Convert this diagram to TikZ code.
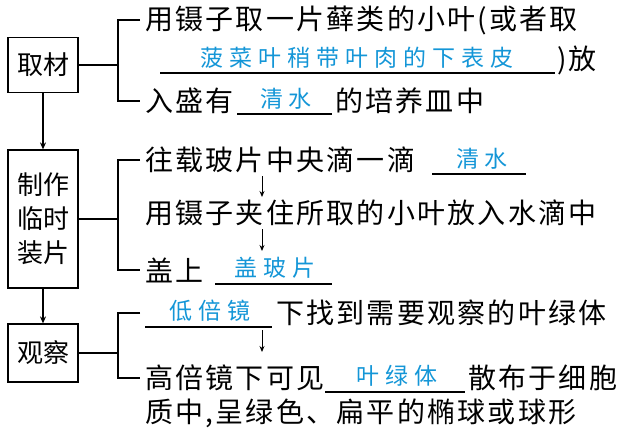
\documentclass[tikz,border=0pt]{standalone}
\usepackage{fontspec}
\newfontfamily\cjk{Noto Sans CJK SC}
\newfontfamily\cjkw[LetterSpace=8]{Noto Sans CJK SC}
\newfontfamily\cjkb[LetterSpace=26]{Noto Sans CJK SC}
\usetikzlibrary{arrows.meta}
\definecolor{ans}{RGB}{20,150,215}
\begin{document}
\begin{tikzpicture}[x=1pt,y=-1pt,
  box/.style={draw,line width=1.2pt,inner sep=0pt,align=center,font=\cjk\fontsize{26}{34}\selectfont},
  txt/.style={anchor=west,inner sep=0pt,font=\cjkw\fontsize{28}{28}\selectfont},
  ansx/.style={inner sep=0pt,text=ans,font=\cjkb\fontsize{23}{23}\selectfont},
  ln/.style={line width=1.2pt},
  arr/.style={line width=1.2pt,-{Stealth[length=7pt,width=6pt]}},
  sarr/.style={line width=0.9pt,-{Stealth[length=6pt,width=5pt]}}]
\useasboundingbox (0,0) rectangle (625,431);
\node[box,minimum width=70,minimum height=55] (b1) at (43,65) {取材};
\node[box,minimum width=70,minimum height=138] (b2) at (43,219) {制作\\临时\\装片};
\node[box,minimum width=70,minimum height=58] (b3) at (43,353) {观察};
\draw[arr] (b1.south) -- (b2.north);
\draw[arr] (b2.south) -- (b3.north);
% bracket 1
\coordinate (j1) at (118,65);
\draw[ln] (b1.east) -- (j1);
\draw[ln] (140,20) -- (118,20) -- (118,101) -- (140,101);
\node[txt] (t1) at (145,20) {用镊子取一片藓类的小叶(或者取};
\draw[ln] (160,73) -- (555,73);
\node[ansx] (a1) at (357,58) {菠菜叶稍带叶肉的下表皮};
\node[txt] (t2) at (557,60) {)放};
\node[txt] (t3) at (145,101) {入盛有};
\draw[ln] (237,114) -- (332,114);
\node[ansx] (a2) at (286,99) {清水};
\node[txt] (t4) at (335,101) {的培养皿中};
% bracket 2
\coordinate (j2) at (118,219);
\draw[ln] (b2.east) -- (j2);
\draw[ln] (140,160) -- (118,160) -- (118,270) -- (140,270);
\node[txt] (t5) at (145,160) {往载玻片中央滴一滴};
\draw[ln] (432,174) -- (526,174);
\node[ansx] (a3) at (482,159) {清水};
\coordinate (c1) at (262,176);\coordinate (c2) at (262,197);
\draw[sarr] (c1) -- (c2);
\node[txt] (t6) at (145,213) {用镊子夹住所取的小叶放入水滴中};
\coordinate (c3) at (262,229);\coordinate (c4) at (262,251);
\draw[sarr] (c3) -- (c4);
\node[txt] (t7) at (145,270) {盖上};
\draw[ln] (215,284) -- (332,284);
\node[ansx] (a4) at (275,268) {盖玻片};
% bracket 3
\coordinate (j3) at (118,353);
\draw[ln] (b3.east) -- (j3);
\draw[ln] (140,313) -- (118,313) -- (118,378) -- (140,378);
\draw[ln] (145,327) -- (272,327);
\node[ansx] (a5) at (210,311) {低倍镜};
\node[txt] (t8) at (276,313) {下找到需要观察的叶绿体};
\coordinate (c5) at (262,330);\coordinate (c6) at (262,352);
\draw[sarr] (c5) -- (c6);
\node[txt] (t9) at (145,378) {高倍镜下可见};
\draw[ln] (325,392) -- (465,392);
\node[ansx] (a6) at (397,376) {叶绿体};
\node[txt] (t10) at (468,378) {散布于细胞};
\node[txt] (t11) at (145,413) {质中,呈绿色、扁平的椭球或球形};
\end{tikzpicture}
\end{document}
